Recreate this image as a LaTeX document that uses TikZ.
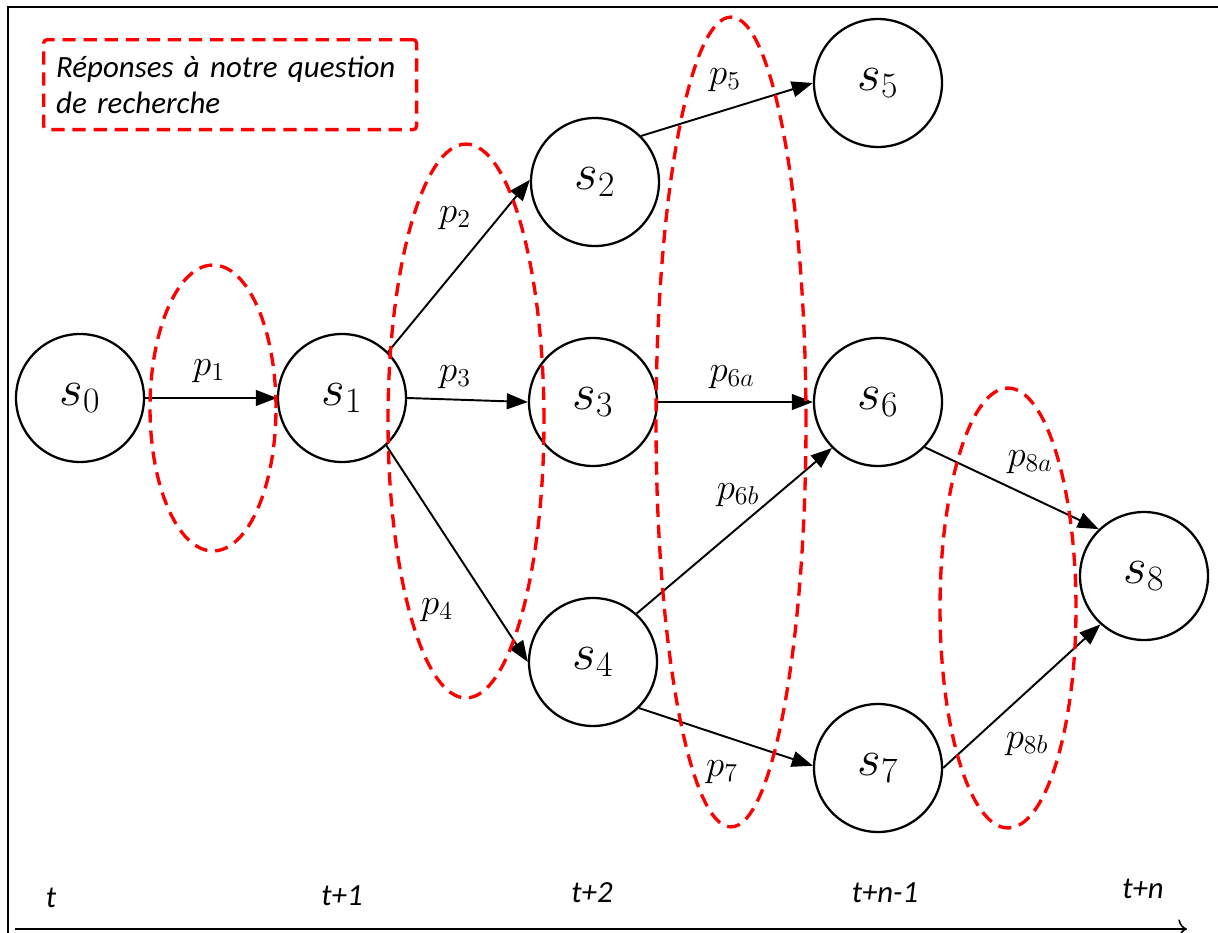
\documentclass[tikz,border=0pt]{standalone}
\usepackage{fix-cm}
\usepackage{fontspec}
\newfontfamily\calibri{Carlito}
\usetikzlibrary{arrows.meta}
\begin{document}
\begin{tikzpicture}[x=0.02cm,y=-0.02cm,
  state/.style={circle,draw,line width=1.3pt,minimum size=2.56cm,inner sep=0pt,
    font=\fontsize{29}{31}\selectfont},
  edge/.style={line width=1.1pt,-{Triangle[length=12pt,width=9pt]}},
  lbl/.style={font=\fontsize{21}{23}\selectfont,inner sep=0pt},
  zone/.style={draw=red,line width=1.9pt,dash pattern=on 7.5pt off 4.5pt},
  tlabel/.style={font=\calibri\itshape\fontsize{17.5}{20}\selectfont,inner sep=0pt},
]
\useasboundingbox (0,0) rectangle (1218,933);
% frame
\coordinate (fb) at (8,933);
\coordinate (fc) at (8,7);
\coordinate (fr) at (1218,7);
\draw[line width=1.7pt] (fb) -- (fc) -- (fr);

% legend
\node[zone,rounded corners=2pt,anchor=north west,minimum width=7.46cm,minimum height=1.8cm,
  text width=6.96cm,align=left,inner xsep=0.25cm,
  font=\calibri\itshape\fontsize{17.6}{20.5}\selectfont] (leg) at (42,38)
  {Réponses à notre question de recherche};

% states
\node[state] (s0) at (80,398) {$s_0$};
\node[state] (s1) at (342,398) {$s_1$};
\node[state] (s2) at (595,182) {$s_2$};
\node[state] (s3) at (593,402) {$s_3$};
\node[state] (s4) at (593,662) {$s_4$};
\node[state] (s5) at (878,83) {$s_5$};
\node[state] (s6) at (878,402) {$s_6$};
\node[state] (s7) at (878,768) {$s_7$};
\node[state] (s8) at (1144,576) {$s_8$};

% edges
\draw[edge] (s0) -- (s1);
\draw[edge] (s1.45) -- (s2.178);
\draw[edge] (s1.east) -- (s3.west);
\draw[edge] (s1.-47) -- (s4.180);
\draw[edge] (s2.45) -- (s5.180);
\draw[edge] (s3) -- (s6);
\draw[edge] (s4.48) -- (s6.225);
\draw[edge] (s4.-45) -- (s7.178);
\draw[edge] (s6.-44) -- (s8.134);
\draw[edge] (s7.east) -- (s8.228);

% edge labels
\node[lbl] (p1) at (209,371) {$p_1$};
\node[lbl] (p2) at (455,218) {$p_2$};
\node[lbl] (p3) at (455,377) {$p_3$};
\node[lbl] (p4) at (437,610) {$p_4$};
\node[lbl] (p5) at (725,80) {$p_5$};
\node[lbl] (p6a) at (732,377) {$p_{6a}$};
\node[lbl] (p6b) at (738,495) {$p_{6b}$};
\node[lbl] (p7) at (722,772) {$p_7$};
\node[lbl] (p8a) at (1030,462) {$p_{8a}$};
\node[lbl] (p8b) at (1027,744) {$p_{8b}$};

% zones
\draw[zone] (213,408) ellipse [x radius=1.26cm, y radius=2.86cm];
\draw[zone] (466,421) ellipse [x radius=1.56cm, y radius=5.54cm];
\draw[zone] (731,422) ellipse [x radius=1.5cm, y radius=8.1cm];
\draw[zone] (1008,608) ellipse [x radius=1.36cm, y radius=4.4cm];

% time axis
\node[tlabel] (t0) at (51,898) {t};
\node[tlabel] (t1) at (342,896) {t+1};
\node[tlabel] (t2) at (592,893) {t+2};
\node[tlabel] (t3) at (885,893) {t+n-1};
\node[tlabel] (t4) at (1143,889) {t+n};
\coordinate (ax0) at (15,929);
\coordinate (ax1) at (1187,929);
\draw[line width=0.9pt,-{To[length=5pt,width=11pt]}] (ax0) -- (ax1);
\end{tikzpicture}
\end{document}
